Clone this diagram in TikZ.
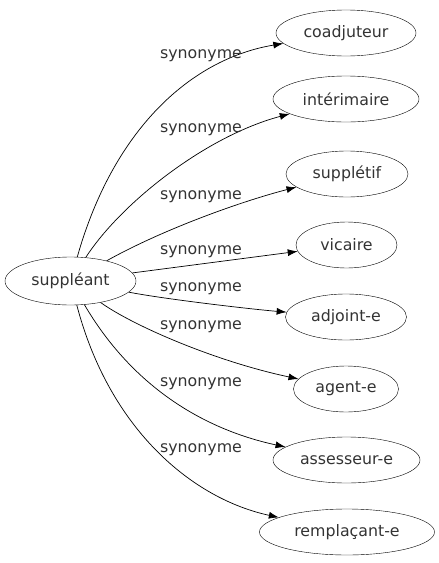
\documentclass[tikz,border=0pt]{standalone}
\usepackage{fontspec}
\setmainfont{DejaVu Sans}
\usetikzlibrary{shapes.geometric,arrows.meta}

\tikzset{
  word/.style={draw, ellipse, inner sep=2pt, minimum height=46pt, text=black!80},
  syn/.style={inner sep=0pt, text=black!80},
  rel/.style={-{Latex[length=10pt,width=7pt]}, line width=0.7pt}
}

\begin{document}
\begin{tikzpicture}[x=1pt, y=-1pt, font=\fontsize{15.8}{19}\selectfont]

% 1. Frame
\useasboundingbox (0,0) rectangle (439,563);

% 2. Source word
\node[word, minimum width=131pt, minimum height=48pt] (src) at (70.5,281) {suppléant};

% 3. Synonyms
\node[word, minimum width=140pt] (coad)    at (346,33)  {coadjuteur};
\node[word, minimum width=146pt] (interim) at (346,99)  {intérimaire};
\node[word, minimum width=122pt] (suppl)   at (347,174) {supplétif};
\node[word, minimum width=101pt] (vic)     at (346.5,245) {vicaire};
\node[word, minimum width=121pt] (adj)     at (346,317) {adjoint-e};
\node[word, minimum width=105pt] (agent)   at (346,389) {agent-e};
\node[word, minimum width=147pt] (assess)  at (346.5,460) {assesseur-e};
\node[word, minimum width=175pt] (rempl)   at (347,532) {remplaçant-e};

% 4. Edges
\draw[rel] (src) .. controls (113,130.5) and (190,59) .. (coad);
\draw[rel] (src) .. controls (121,203) and (206,136) .. (interim);
\draw[rel] (src) .. controls (161.75,230) and (239,202) .. (suppl);
\draw[rel] (src) -- (vic);
\draw[rel] (src) .. controls (167,299.5) and (254.5,309.5) .. (adj);
\draw[rel] (src) .. controls (133.5,326) and (216,361.5) .. (agent);
\draw[rel] (src) .. controls (136,392.5) and (211,431) .. (assess);
\draw[rel] (src) .. controls (109.5,430) and (193,499) .. (rempl);

% 5. Edge labels
\node[syn] (lab1) at (201,56)  {synonyme};
\node[syn] (lab2) at (201,130) {synonyme};
\node[syn] (lab3) at (201,197) {synonyme};
\node[syn] (lab4) at (201,252) {synonyme};
\node[syn] (lab5) at (201,289) {synonyme};
\node[syn] (lab6) at (201,327) {synonyme};
\node[syn] (lab7) at (201,384) {synonyme};
\node[syn] (lab8) at (201,450) {synonyme};

\end{tikzpicture}
\end{document}
